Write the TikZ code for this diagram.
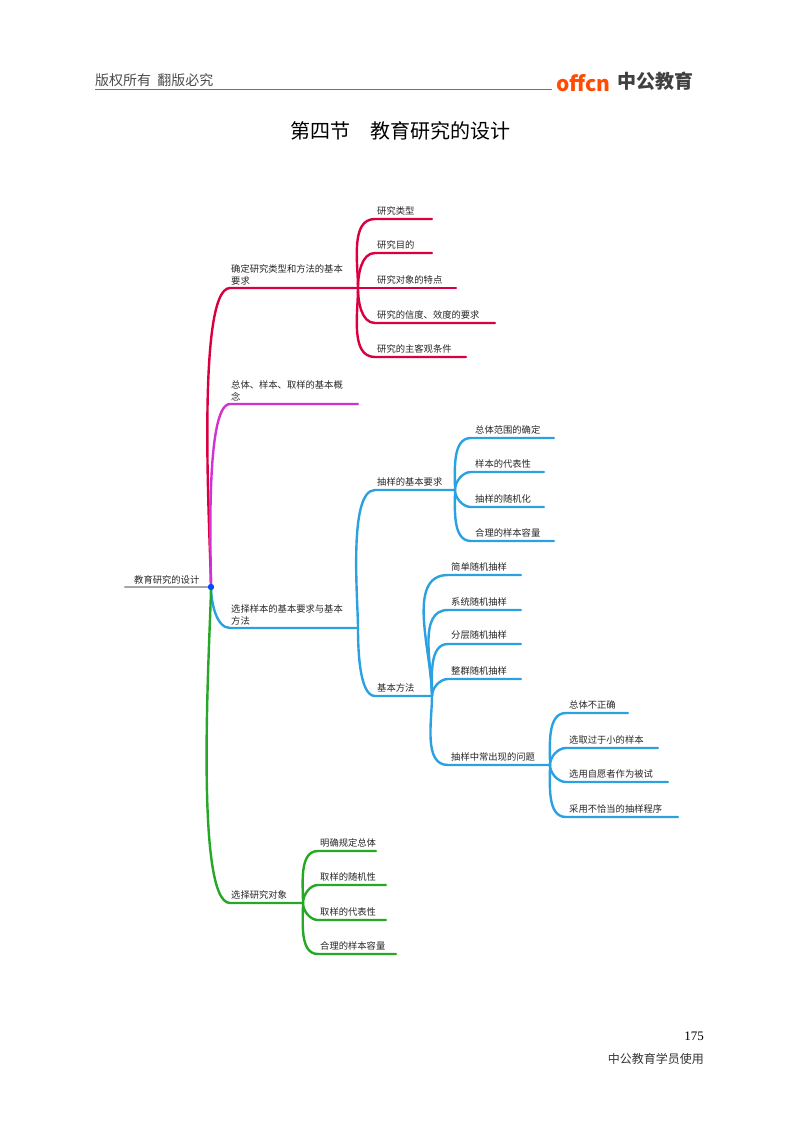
\documentclass[tikz,border=0pt]{standalone}
\usepackage{fontspec}
\setmainfont{Noto Sans CJK SC}
\newfontfamily\serifnum{Liberation Serif}
\begin{document}
\begin{tikzpicture}[x=1pt,y=1pt,
  lbl/.style={anchor=south west,inner sep=1pt,font=\fontsize{9.3}{11.5}\selectfont,text=black!85,align=left},
  br/.style={line width=2.4pt,line cap=round},
  c1/.style={br,draw=red!70!magenta!85!black},
  c2/.style={br,draw=violet!45!magenta!80},
  c3/.style={br,draw=cyan!80!blue!85},
  c4/.style={br,draw=green!60!black!85},
  up/.style={out=90,in=180,looseness=0.9},
  dn/.style={out=-90,in=180,looseness=0.9}]
\useasboundingbox (0,0) rectangle (800,-1124);
% header
\node[anchor=south west,inner sep=0,font=\fontsize{14}{16}\selectfont,text=black!70] (hd) at (95,-87) {版权所有\ \ 翻版必究};
\coordinate (hl1) at (95,-89); \coordinate (hl2) at (552,-89);
\draw[black!55,line width=0.8pt] (hl1) -- (hl2);
\node[anchor=south west,inner sep=0,font=\fontsize{21}{22}\selectfont\bfseries,text=orange!60!red] (logo1) at (556,-92) {offcn};
\node[anchor=south west,inner sep=0,font=\fontsize{19}{20}\selectfont\bfseries,text=black!75] (logo2) at (617,-91) {中公教育};
\node[font=\fontsize{20}{22}\selectfont,text=black] (title) at (400,-131) {第四节\quad 教育研究的设计};
% root
\coordinate (r0) at (125,-587); \coordinate (root) at (211,-587);
\draw[br,draw=black!35] (r0) -- (root);
\node[lbl] (rt) at (133,-585) {教育研究的设计};
% branch 1
\coordinate (b1s) at (230,-288); \coordinate (b1) at (358,-288);
\draw[c1] (root) to[up,looseness=0.3] (b1s) -- (b1);
\node[lbl] (t1) at (230,-286) {确定研究类型和方法的基本\\要求};
\foreach \y/\e/\t [count=\i] in {219/432/研究类型,253/432/研究目的,288/456/研究对象的特点,323/495/研究的信度、效度的要求,357/466/研究的主客观条件}{
  \coordinate (a\i) at (375,-\y); \coordinate (ae\i) at (\e,-\y);
  \ifnum\y<288 \draw[c1] (b1) to[up] (a\i) -- (ae\i);
  \else \ifnum\y=288 \draw[c1] (b1) -- (ae\i); \else \draw[c1] (b1) to[dn] (a\i) -- (ae\i); \fi\fi
  \node[lbl] (at\i) at (376,-\y+3) {\t};}
% branch 2
\coordinate (b2s) at (230,-404); \coordinate (b2) at (358,-404);
\draw[c2] (root) to[up,looseness=0.35] (b2s) -- (b2);
\node[lbl] (t2) at (230,-402) {总体、样本、取样的基本概\\念};
% branch 3
\coordinate (b3s) at (230,-628); \coordinate (b3) at (358,-628);
\draw[c3] (root) to[dn,looseness=0.8] (b3s) -- (b3);
\node[lbl] (t3) at (230,-626) {选择样本的基本要求与基本\\方法};
\coordinate (s1s) at (375,-490); \coordinate (s1) at (455,-490);
\draw[c3] (b3) to[up,looseness=0.5] (s1s) -- (s1);
\node[lbl] (st1) at (376,-487) {抽样的基本要求};
\coordinate (s2s) at (375,-696); \coordinate (s2) at (432,-696);
\draw[c3] (b3) to[dn,looseness=0.6] (s2s) -- (s2);
\node[lbl] (st2) at (376,-693) {基本方法};
\foreach \y/\e/\t [count=\i] in {438/554/总体范围的确定,472/544/样本的代表性,507/544/抽样的随机化,541/554/合理的样本容量}{
  \coordinate (p\i) at (471,-\y); \coordinate (pe\i) at (\e,-\y);
  \ifnum\y<490 \draw[c3] (s1) to[up] (p\i) -- (pe\i); \else \draw[c3] (s1) to[dn] (p\i) -- (pe\i); \fi
  \node[lbl] (pt\i) at (474,-\y+3) {\t};}
\foreach \y/\e/\t [count=\i] in {575/521/简单随机抽样,610/521/系统随机抽样,644/521/分层随机抽样,679/521/整群随机抽样,765/550/抽样中常出现的问题}{
  \coordinate (m\i) at (448,-\y); \coordinate (me\i) at (\e,-\y);
  \ifnum\y<696 \draw[c3] (s2) to[up] (m\i) -- (me\i); \else \draw[c3] (s2) to[dn] (m\i) -- (me\i); \fi
  \node[lbl] (mt\i) at (450,-\y+3) {\t};}
\foreach \y/\e/\t [count=\i] in {713/628/总体不正确,748/658/选取过于小的样本,782/668/选用自愿者作为被试,817/678/采用不恰当的抽样程序}{
  \coordinate (q\i) at (566,-\y); \coordinate (qe\i) at (\e,-\y);
  \ifnum\y<765 \draw[c3] (me5) to[up] (q\i) -- (qe\i); \else \draw[c3] (me5) to[dn] (q\i) -- (qe\i); \fi
  \node[lbl] (qt\i) at (568,-\y+3) {\t};}
% branch 4
\coordinate (b4s) at (230,-903); \coordinate (b4) at (303,-903);
\draw[c4] (root) to[dn,looseness=0.3] (b4s) -- (b4);
\node[lbl] (t4) at (230,-900) {选择研究对象};
\foreach \y/\e/\t [count=\i] in {851/376/明确规定总体,885/386/取样的随机性,920/386/取样的代表性,954/396/合理的样本容量}{
  \coordinate (g\i) at (318,-\y); \coordinate (ge\i) at (\e,-\y);
  \ifnum\y<903 \draw[c4] (b4) to[up] (g\i) -- (ge\i); \else \draw[c4] (b4) to[dn] (g\i) -- (ge\i); \fi
  \node[lbl] (gt\i) at (319,-\y+3) {\t};}
\fill[blue!70!cyan] (root) circle (3.2pt);
% footer
\node[anchor=east,inner sep=0,font=\serifnum\fontsize{13}{15}\selectfont] (pg) at (704,-1036) {175};
\node[anchor=east,inner sep=0,font=\fontsize{12}{14}\selectfont,text=black!80] (ft) at (704,-1059) {中公教育学员使用};
\end{tikzpicture}
\end{document}
